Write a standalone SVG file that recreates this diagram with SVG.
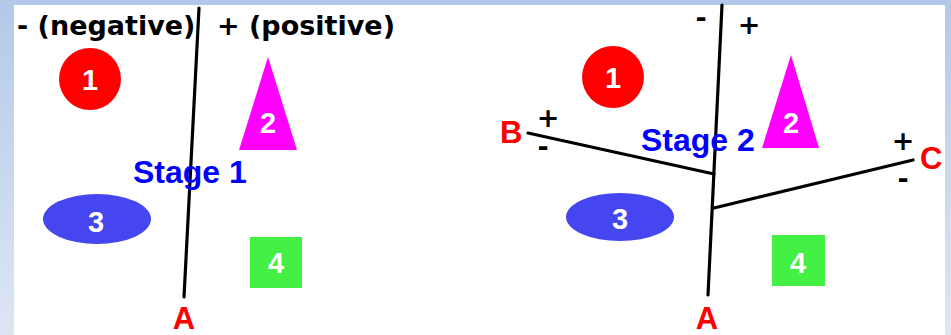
<svg xmlns="http://www.w3.org/2000/svg" width="951" height="335" viewBox="0 0 951 335">
<defs>
<linearGradient id="bg" x1="0" y1="0" x2="0" y2="1">
<stop offset="0" stop-color="#b3c9ea"/>
<stop offset="1" stop-color="#dde6f3"/>
</linearGradient>
</defs>
<style>
.sign{font-family:"DejaVu Sans",sans-serif;font-weight:bold;font-size:27px;fill:#000}
.lbl{font-family:"Liberation Sans",Arial,sans-serif;font-weight:bold;font-size:31px;fill:#ff0000}
.stage{font-family:"Liberation Sans",Arial,sans-serif;font-weight:bold;font-size:32px;fill:#0000ff}
.num{font-family:"Liberation Sans",Arial,sans-serif;font-weight:bold;font-size:29px;fill:#fff;text-anchor:middle}
.ln{stroke:#000;stroke-width:3.2;fill:none;stroke-linecap:round}
</style>
<rect x="0" y="0" width="951" height="335" fill="url(#bg)"/>
<rect x="14" y="5" width="931" height="330" fill="#fff"/>

<g id="connectors">
<line class="ln" x1="199" y1="8" x2="184" y2="297"/>
<line class="ln" x1="722" y1="5" x2="708" y2="295"/>
<line class="ln" x1="528" y1="133" x2="714" y2="174"/>
<line class="ln" x1="714" y1="208" x2="913" y2="160"/>
</g>

<g id="left-labels">
<text class="sign" x="17" y="35">- (negative)</text>
<text class="sign" x="217" y="35">+ (positive)</text>
<text class="stage" x="133" y="183">Stage 1</text>
<text class="lbl" x="184" y="329" text-anchor="middle">A</text>
</g>
<g id="left-1"><circle cx="90" cy="79" r="31" fill="#ff0000"/><text class="num" x="90" y="90">1</text></g>
<g id="left-2"><polygon points="268,57 239,150 297,150" fill="#ff00ff"/><text class="num" x="268" y="133">2</text></g>
<g id="left-3"><ellipse cx="97" cy="219" rx="54" ry="25" fill="#4646f0"/><text class="num" x="96" y="232">3</text></g>
<g id="left-4"><rect x="250" y="237" width="52" height="51" fill="#44f044"/><text class="num" x="276" y="273">4</text></g>

<g id="right-labels">
<text class="sign" x="701" y="27" text-anchor="middle">-</text>
<text class="sign" x="749" y="34" text-anchor="middle">+</text>
<text class="sign" x="548" y="127" text-anchor="middle">+</text>
<text class="sign" x="543" y="156" text-anchor="middle">-</text>
<text class="sign" x="903" y="150" text-anchor="middle">+</text>
<text class="sign" x="903" y="188" text-anchor="middle">-</text>
<text class="stage" x="641" y="151">Stage 2</text>
<text class="lbl" x="500" y="143">B</text>
<text class="lbl" x="920" y="169">C</text>
<text class="lbl" x="707" y="329" text-anchor="middle">A</text>
</g>
<g id="right-1"><circle cx="613" cy="77" r="31" fill="#ff0000"/><text class="num" x="613" y="88">1</text></g>
<g id="right-2"><polygon points="791,55 762,148 819,148" fill="#ff00ff"/><text class="num" x="791" y="133">2</text></g>
<g id="right-3"><ellipse cx="620" cy="217" rx="54" ry="24" fill="#4646f0"/><text class="num" x="620" y="229">3</text></g>
<g id="right-4"><rect x="772" y="235" width="53" height="51" fill="#44f044"/><text class="num" x="798" y="273">4</text></g>
</svg>
